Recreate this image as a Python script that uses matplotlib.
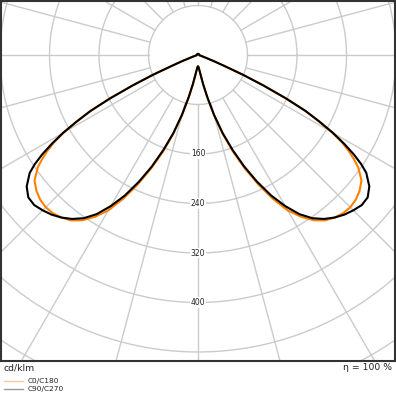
import numpy as np
import matplotlib

matplotlib.use("Agg")
import matplotlib.pyplot as plt  # noqa: E402

# Luminous intensity distribution, cd/klm, by angle from nadir (degrees).
gamma = [0, 2.5, 5, 7.5, 10, 12.5, 15, 17.5, 20, 22.5, 25, 27.5, 30, 32.5,
         35, 37.5, 40, 42.5, 45, 47.5, 50, 52.5, 55, 56.25, 57.5, 58.75, 60,
         61.25, 62.5, 63.75, 65, 66.25, 67.5, 68.75, 70, 72.5, 75, 80, 90,
         135, 180]

c0_c180 = [19, 20, 24, 33, 49, 72, 102, 135, 167, 199, 231, 262, 290, 310,
           326, 337, 343, 347, 348, 346, 341, 333, 316, 303, 289, 272, 250,
           222, 196, 158, 117, 80, 45, 28, 16, 8, 4, 2, 2, 2, 2]

c90_c270 = [19, 20, 24, 32, 48, 70, 100, 132, 163, 195, 226, 256, 282, 305,
            322, 334, 343, 350, 355, 359, 358, 349, 332, 317, 298, 276, 252,
            224, 196, 158, 117, 80, 45, 28, 16, 8, 4, 2, 2, 2, 2]

series_labels = ["C0/C180", "C90/C270"]
series_colors = ["#ff8000", "#000000"]

ring_values = [80, 160, 240, 320, 400, 480, 560]
ring_labels = [160, 240, 320, 400]

unit_label = "cd/klm"
eta_label = "η = 100 %"

W = 396
px_per_unit = 49.5 / 80.0
ax_left, ax_w, ax_top, ax_h = 1, 394, 1, 360
cx, cy = 197, 54  # polar center in pixels from axes left / top

fig = plt.figure(figsize=(W / 100, W / 100), dpi=100)
ax = fig.add_axes([ax_left / W, (W - ax_top - ax_h) / W, ax_w / W, ax_h / W])
ax.set_xlim(-cx / px_per_unit, (ax_w - cx) / px_per_unit)
ax.set_ylim(-(ax_h - cy) / px_per_unit, cy / px_per_unit)

grid_kw = dict(color="#cbcbcb", lw=1.0, zorder=1)
t = np.linspace(0, 2 * np.pi, 361)
for r in ring_values:
    ax.plot(r * np.cos(t), r * np.sin(t), **grid_kw)
for a in np.arange(0, 360, 15):
    ar = np.radians(a)
    ax.plot([80 * np.sin(ar), 800 * np.sin(ar)],
            [-80 * np.cos(ar), -800 * np.cos(ar)], **grid_kw)

for r in ring_labels:
    ax.text(0, -r, str(r), ha="center", va="center", fontsize=5.5,
            color="#222222", zorder=2,
            bbox=dict(facecolor="white", edgecolor="none", pad=0.6))


def outline(values):
    g = np.radians(np.array(gamma, dtype=float))
    v = np.array(values, dtype=float)
    # left half: nadir -> zenith, right half mirrored back down
    xl, yl = -v * np.sin(g), -v * np.cos(g)
    xr, yr = v[::-1] * np.sin(g[::-1]), -v[::-1] * np.cos(g[::-1])
    return np.concatenate([xl, xr]), np.concatenate([yl, yr])


for vals, col, lab in zip([c0_c180, c90_c270], series_colors, series_labels):
    x, y = outline(vals)
    ax.plot(x, y, color=col, lw=1.5, zorder=3, solid_joinstyle="round")

ax.set_xticks([])
ax.set_yticks([])
for sp in ax.spines.values():
    sp.set_color("#333333")
    sp.set_linewidth(1.5)

fig.text(4 / W, 1 - 368 / W, unit_label, ha="left", va="center",
         fontsize=6.7, color="#222222")
fig.text(392 / W, 1 - 368 / W, eta_label, ha="right", va="center",
         fontsize=6.7, color="#222222")

for i, (lab, col) in enumerate(zip(series_labels, series_colors)):
    yy = 1 - (381 + 8 * i) / W
    fig.add_artist(plt.Line2D([4 / W, 23 / W], [yy, yy], color=col,
                              lw=1.0, alpha=0.4))
    fig.text(27.5 / W, yy, lab, ha="left", va="center", fontsize=5.3,
             color="#222222")

fig.savefig("out.png", dpi=100, facecolor="white")
